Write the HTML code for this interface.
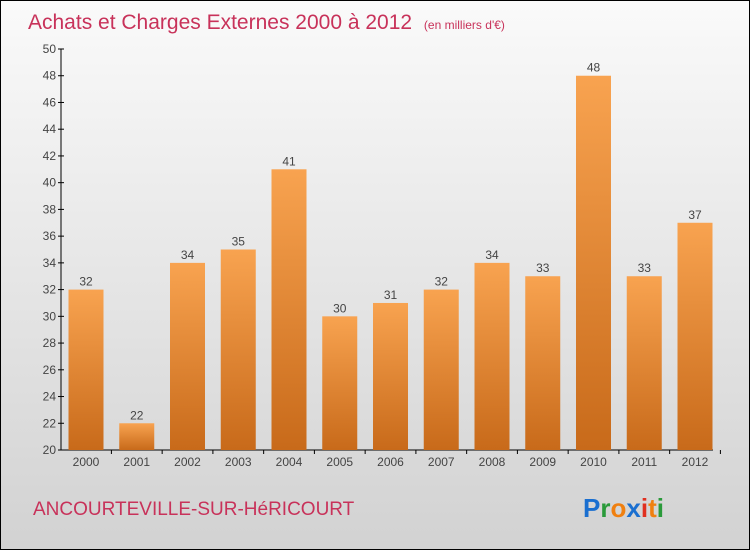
<!DOCTYPE html>
<html><head><meta charset="utf-8"><style>
body{margin:0}
#wrap{position:relative;width:748px;height:548px;border:1px solid #000;background:linear-gradient(#fafafa,#d2d2d2);font-family:"Liberation Sans",sans-serif;overflow:hidden}
</style></head><body>
<div id="wrap">
<svg id="svg" width="748" height="548" xmlns="http://www.w3.org/2000/svg">
<defs><linearGradient id="bg" x1="0" y1="0" x2="0" y2="1"><stop offset="0" stop-color="#f8a350"/><stop offset="1" stop-color="#c86a1a"/></linearGradient></defs>
<text x="27" y="28" font-size="21" fill="#c8325a">Achats et Charges Externes 2000 à 2012 <tspan font-size="12" dx="6">(en milliers d'€)</tspan></text>
<g id="plot"></g>
<text x="32" y="514" font-size="19" fill="#c8325a">ANCOURTEVILLE-SUR-HéRICOURT</text>
<g font-size="26" font-weight="bold">
<text x="582" y="516"><tspan fill="#1a6fd0">P</tspan><tspan fill="#2a9a3a">r</tspan><tspan fill="#f08010">o</tspan><tspan fill="#1a6fd0">x</tspan><tspan fill="#e03020">i</tspan><tspan fill="#f08010">t</tspan><tspan fill="#2a9a3a">i</tspan></text></g>
</svg></div>
<script>
const years=["2000","2001","2002","2003","2004","2005","2006","2007","2008","2009","2010","2011","2012"];
const values=[32,22,34,35,41,30,31,32,34,33,48,33,37];
const yTicks=[20,22,24,26,28,30,32,34,36,38,40,42,44,46,48,50];
const NS="http://www.w3.org/2000/svg";
const g=document.getElementById('plot');
const y0=449,y1=48,vmin=20,vmax=50;
const Y=v=>y0-(v-vmin)/(vmax-vmin)*(y0-y1);
const X=i=>85+i*50.75;
function mk(t,a){const e=document.createElementNS(NS,t);for(const k in a)e.setAttribute(k,a[k]);g.appendChild(e);return e;}
let ax=mk('line',{x1:60,y1:y1,x2:60,y2:y0,stroke:'#000'});


let bx=mk('line',{x1:60,y1:y0,x2:712,y2:y0,stroke:'#000'});


yTicks.forEach(v=>{
 let l=mk('line',{x1:57,x2:63,y1:Y(v),y2:Y(v),stroke:'#000'});
 
 
 let t=mk('text',{x:55,y:Y(v)+4,'text-anchor':'end','font-size':12,fill:'#444'});
 t.textContent=v;
 
 
});
years.forEach((yr,i)=>{
 const v=values[i];
 let r=mk('rect',{x:X(i)-17.5,y:Y(v),width:35,height:y0-Y(v),fill:'url(#bg)'});
 
 
 let t=mk('text',{x:X(i),y:Y(v)-4,'text-anchor':'middle','font-size':12,fill:'#444'});
 t.textContent=v;
 
 
 let l=mk('line',{x1:X(i)+25.4,x2:X(i)+25.4,y1:y0,y2:y0+4,stroke:'#000'});
 
 
 let xt=mk('text',{x:X(i),y:y0+16,'text-anchor':'middle','font-size':12,fill:'#444'});
 xt.textContent=yr;
 
 
});
</script>
</body></html>
